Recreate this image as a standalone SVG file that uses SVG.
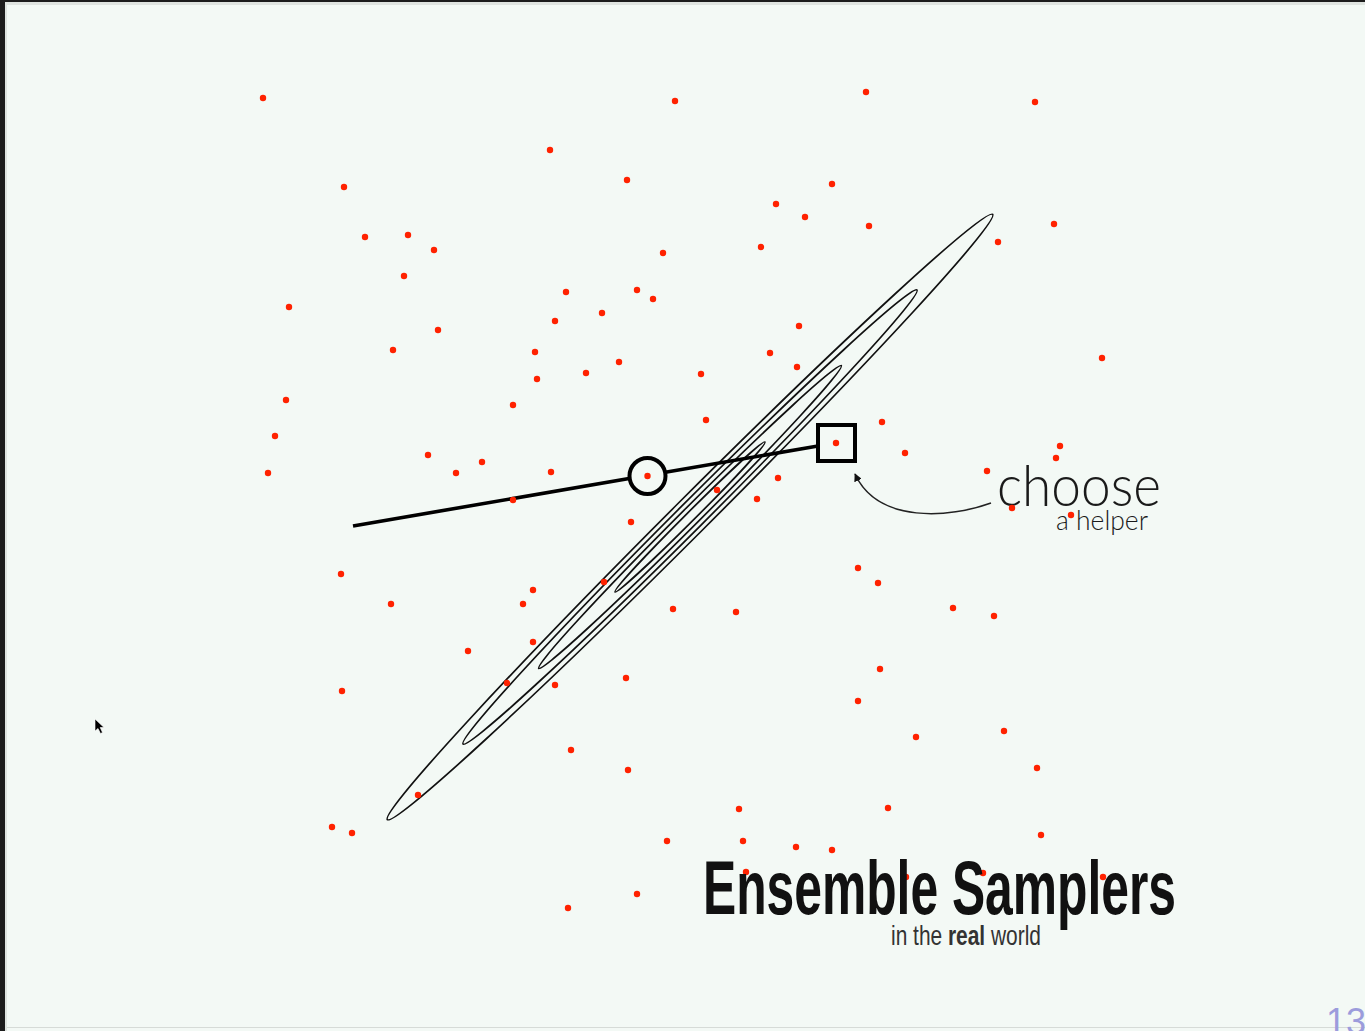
<svg xmlns="http://www.w3.org/2000/svg" width="1365" height="1031" viewBox="0 0 1365 1031">
<defs>
<style>
.contour{fill:none;stroke:#111;stroke-width:1.7}
.dot{fill:#ff2200}
.thick{fill:none;stroke:#000;stroke-width:3.6;stroke-linecap:butt}
.node{fill:#f3f9f5;stroke:#000;stroke-width:4}
.thin{fill:none;stroke:#222;stroke-width:1.5}
.label{font-family:Lato,"Open Sans","Liberation Sans",sans-serif;font-weight:300;fill:#1a1a1a}
.title{font-family:"Liberation Sans Narrow","Liberation Sans",sans-serif;font-weight:bold;fill:#111}
.sub{font-family:"Liberation Sans Narrow","Liberation Sans",sans-serif;fill:#333}
</style>
<marker id="arr" viewBox="0 0 10 10" refX="9" refY="5" markerWidth="8" markerHeight="8" markerUnits="userSpaceOnUse" orient="auto">
<path d="M0,0 L10,5 L0,10 z" fill="#111"/>
</marker>
</defs>
<rect x="0" y="0" width="1365" height="1031" fill="#1c1c1c"/>
<rect x="5" y="2" width="1360" height="1029" fill="#dfe4e0"/>
<rect x="7" y="5" width="1358" height="1026" fill="#f3f9f5"/>
<line x1="7" y1="1027.5" x2="1365" y2="1027.5" stroke="#d6dbd7" stroke-width="1"/>

<g id="target" transform="translate(690 517) rotate(-45)">
<ellipse class="contour" cx="0" cy="0" rx="428" ry="18"/>
<ellipse class="contour" cx="0" cy="0" rx="321" ry="13.5"/>
<ellipse class="contour" cx="0" cy="0" rx="214" ry="9"/>
<ellipse class="contour" cx="0" cy="0" rx="106" ry="4.5"/>
</g>

<g id="connectors">
<line class="thick" x1="353" y1="526" x2="818" y2="446"/>
<path class="thin" d="M991,503 C950,518 878,524 855,474" marker-end="url(#arr)"/>
</g>

<g id="walker"><circle class="node" cx="647.5" cy="476" r="18"/></g>
<g id="helper"><rect class="node" x="818" y="425" width="37" height="36"/></g>

<g id="label-choose">
<text class="label" x="997" y="506" font-size="57" textLength="164" lengthAdjust="spacingAndGlyphs">choose</text>
<text class="label" x="1056" y="530" font-size="27" textLength="92" lengthAdjust="spacingAndGlyphs">a helper</text>
</g>

<g id="ensemble">
<circle class="dot" cx="263" cy="98" r="3.2"/><circle class="dot" cx="675" cy="101" r="3.2"/><circle class="dot" cx="550" cy="150" r="3.2"/><circle class="dot" cx="344" cy="187" r="3.2"/><circle class="dot" cx="627" cy="180" r="3.2"/><circle class="dot" cx="365" cy="237" r="3.2"/><circle class="dot" cx="408" cy="235" r="3.2"/><circle class="dot" cx="434" cy="250" r="3.2"/><circle class="dot" cx="404" cy="276" r="3.2"/><circle class="dot" cx="663" cy="253" r="3.2"/><circle class="dot" cx="289" cy="307" r="3.2"/><circle class="dot" cx="566" cy="292" r="3.2"/><circle class="dot" cx="637" cy="290" r="3.2"/><circle class="dot" cx="653" cy="299" r="3.2"/><circle class="dot" cx="555" cy="321" r="3.2"/><circle class="dot" cx="602" cy="313" r="3.2"/><circle class="dot" cx="438" cy="330" r="3.2"/><circle class="dot" cx="393" cy="350" r="3.2"/><circle class="dot" cx="535" cy="352" r="3.2"/><circle class="dot" cx="619" cy="362" r="3.2"/><circle class="dot" cx="586" cy="373" r="3.2"/><circle class="dot" cx="537" cy="379" r="3.2"/><circle class="dot" cx="701" cy="374" r="3.2"/><circle class="dot" cx="286" cy="400" r="3.2"/><circle class="dot" cx="513" cy="405" r="3.2"/><circle class="dot" cx="275" cy="436" r="3.2"/><circle class="dot" cx="428" cy="455" r="3.2"/><circle class="dot" cx="482" cy="462" r="3.2"/><circle class="dot" cx="268" cy="473" r="3.2"/><circle class="dot" cx="456" cy="473" r="3.2"/><circle class="dot" cx="551" cy="472" r="3.2"/><circle class="dot" cx="647.5" cy="476" r="3.2"/>
<circle class="dot" cx="866" cy="92" r="3.2"/><circle class="dot" cx="1035" cy="102" r="3.2"/><circle class="dot" cx="832" cy="184" r="3.2"/><circle class="dot" cx="776" cy="204" r="3.2"/><circle class="dot" cx="805" cy="217" r="3.2"/><circle class="dot" cx="869" cy="226" r="3.2"/><circle class="dot" cx="1054" cy="224" r="3.2"/><circle class="dot" cx="761" cy="247" r="3.2"/><circle class="dot" cx="998" cy="242" r="3.2"/><circle class="dot" cx="799" cy="326" r="3.2"/><circle class="dot" cx="770" cy="353" r="3.2"/><circle class="dot" cx="797" cy="367" r="3.2"/><circle class="dot" cx="1102" cy="358" r="3.2"/><circle class="dot" cx="706" cy="420" r="3.2"/><circle class="dot" cx="882" cy="422" r="3.2"/><circle class="dot" cx="836" cy="443" r="3.2"/><circle class="dot" cx="905" cy="453" r="3.2"/><circle class="dot" cx="1060" cy="446" r="3.2"/><circle class="dot" cx="1056" cy="458" r="3.2"/><circle class="dot" cx="987" cy="471" r="3.2"/><circle class="dot" cx="778" cy="478" r="3.2"/>
<circle class="dot" cx="513" cy="500" r="3.2"/><circle class="dot" cx="631" cy="522" r="3.2"/><circle class="dot" cx="341" cy="574" r="3.2"/><circle class="dot" cx="391" cy="604" r="3.2"/><circle class="dot" cx="533" cy="590" r="3.2"/><circle class="dot" cx="523" cy="604" r="3.2"/><circle class="dot" cx="604" cy="582" r="3.2"/><circle class="dot" cx="673" cy="609" r="3.2"/><circle class="dot" cx="468" cy="651" r="3.2"/><circle class="dot" cx="533" cy="642" r="3.2"/><circle class="dot" cx="507" cy="683" r="3.2"/><circle class="dot" cx="555" cy="685" r="3.2"/><circle class="dot" cx="626" cy="678" r="3.2"/><circle class="dot" cx="342" cy="691" r="3.2"/><circle class="dot" cx="571" cy="750" r="3.2"/><circle class="dot" cx="628" cy="770" r="3.2"/><circle class="dot" cx="418" cy="795" r="3.2"/><circle class="dot" cx="332" cy="827" r="3.2"/><circle class="dot" cx="352" cy="833" r="3.2"/><circle class="dot" cx="667" cy="841" r="3.2"/><circle class="dot" cx="637" cy="894" r="3.2"/><circle class="dot" cx="568" cy="908" r="3.2"/>
<circle class="dot" cx="717" cy="490" r="3.2"/><circle class="dot" cx="757" cy="499" r="3.2"/><circle class="dot" cx="1012" cy="508" r="3.2"/><circle class="dot" cx="1071" cy="515" r="3.2"/><circle class="dot" cx="858" cy="568" r="3.2"/><circle class="dot" cx="878" cy="583" r="3.2"/><circle class="dot" cx="736" cy="612" r="3.2"/><circle class="dot" cx="953" cy="608" r="3.2"/><circle class="dot" cx="994" cy="616" r="3.2"/><circle class="dot" cx="880" cy="669" r="3.2"/><circle class="dot" cx="858" cy="701" r="3.2"/><circle class="dot" cx="916" cy="737" r="3.2"/><circle class="dot" cx="1004" cy="731" r="3.2"/><circle class="dot" cx="1037" cy="768" r="3.2"/><circle class="dot" cx="739" cy="809" r="3.2"/><circle class="dot" cx="888" cy="808" r="3.2"/><circle class="dot" cx="743" cy="841" r="3.2"/><circle class="dot" cx="796" cy="847" r="3.2"/><circle class="dot" cx="832" cy="850" r="3.2"/><circle class="dot" cx="1041" cy="835" r="3.2"/><circle class="dot" cx="746" cy="872" r="3.2"/><circle class="dot" cx="906" cy="877" r="3.2"/><circle class="dot" cx="983" cy="873" r="3.2"/><circle class="dot" cx="1103" cy="877" r="3.2"/>
</g>

<g id="title">
<text class="title" x="703" y="914" font-size="76" textLength="473" lengthAdjust="spacingAndGlyphs">Ensemble Samplers</text>
<text class="sub" x="891" y="945" font-size="28" textLength="150" lengthAdjust="spacingAndGlyphs">in the <tspan font-weight="bold">real</tspan> world</text>
</g>

<text x="1326" y="1034" font-family="'Liberation Sans',sans-serif" font-size="36" fill="#9c9cdc">13</text>

<path d="M95,719 L95,731 L98,728.5 L100.5,733.5 L102.5,732.5 L100.2,727.5 L104,727.5 Z" fill="#000" stroke="#fff" stroke-width="0.6"/>
</svg>
